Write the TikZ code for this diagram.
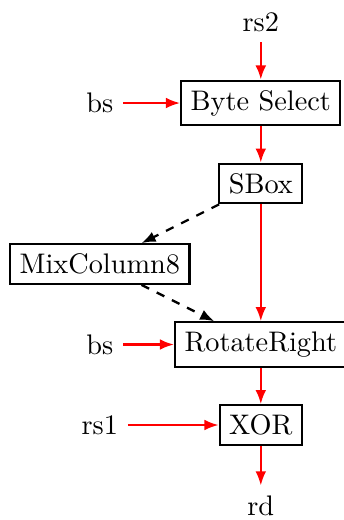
\documentclass[tikz,border=0pt]{standalone}
\usepackage{tikz}
\usetikzlibrary{arrows.meta}

\begin{document}
\begin{tikzpicture}[
  unit/.style={draw, thick, rectangle},
  sig/.style={inner sep=3.33pt},
  flow/.style={-{Latex[length=5pt, width=3.8pt]}, thick, red},
  aux/.style={-{Latex[length=5pt, width=3.8pt]}, thick, dashed}
]
\useasboundingbox (-1.24,-1.18) rectangle (3.03,5.28);

% nodes
\node[sig] (rs2) at (2,5) {rs2};
\node[unit] (bsel) at (2,4) {Byte Select};
\node[sig] (bs1) at (0,4) {bs};
\node[unit] (sbox) at (2,3) {SBox};
\node[unit] (mix) at (0,2) {MixColumn8};
\node[unit] (rot) at (2,1) {RotateRight};
\node[sig] (bs2) at (0,1) {bs};
\node[unit] (xor) at (2,0) {XOR};
\node[sig] (rs1) at (0,0) {rs1};
\node[sig] (rd) at (2,-1) {rd};

% data path
\draw[flow] (rs2) -- (bsel);
\draw[flow] (bs1) -- (bsel);
\draw[flow] (bsel) -- (sbox);
\draw[flow] (sbox) -- (rot);
\draw[flow] (bs2) -- (rot);
\draw[flow] (rot) -- (xor);
\draw[flow] (rs1) -- (xor);
\draw[flow] (xor) -- (rd);

% optional mix step
\draw[aux] (sbox) -- (mix);
\draw[aux] (mix) -- (rot);
\end{tikzpicture}
\end{document}
